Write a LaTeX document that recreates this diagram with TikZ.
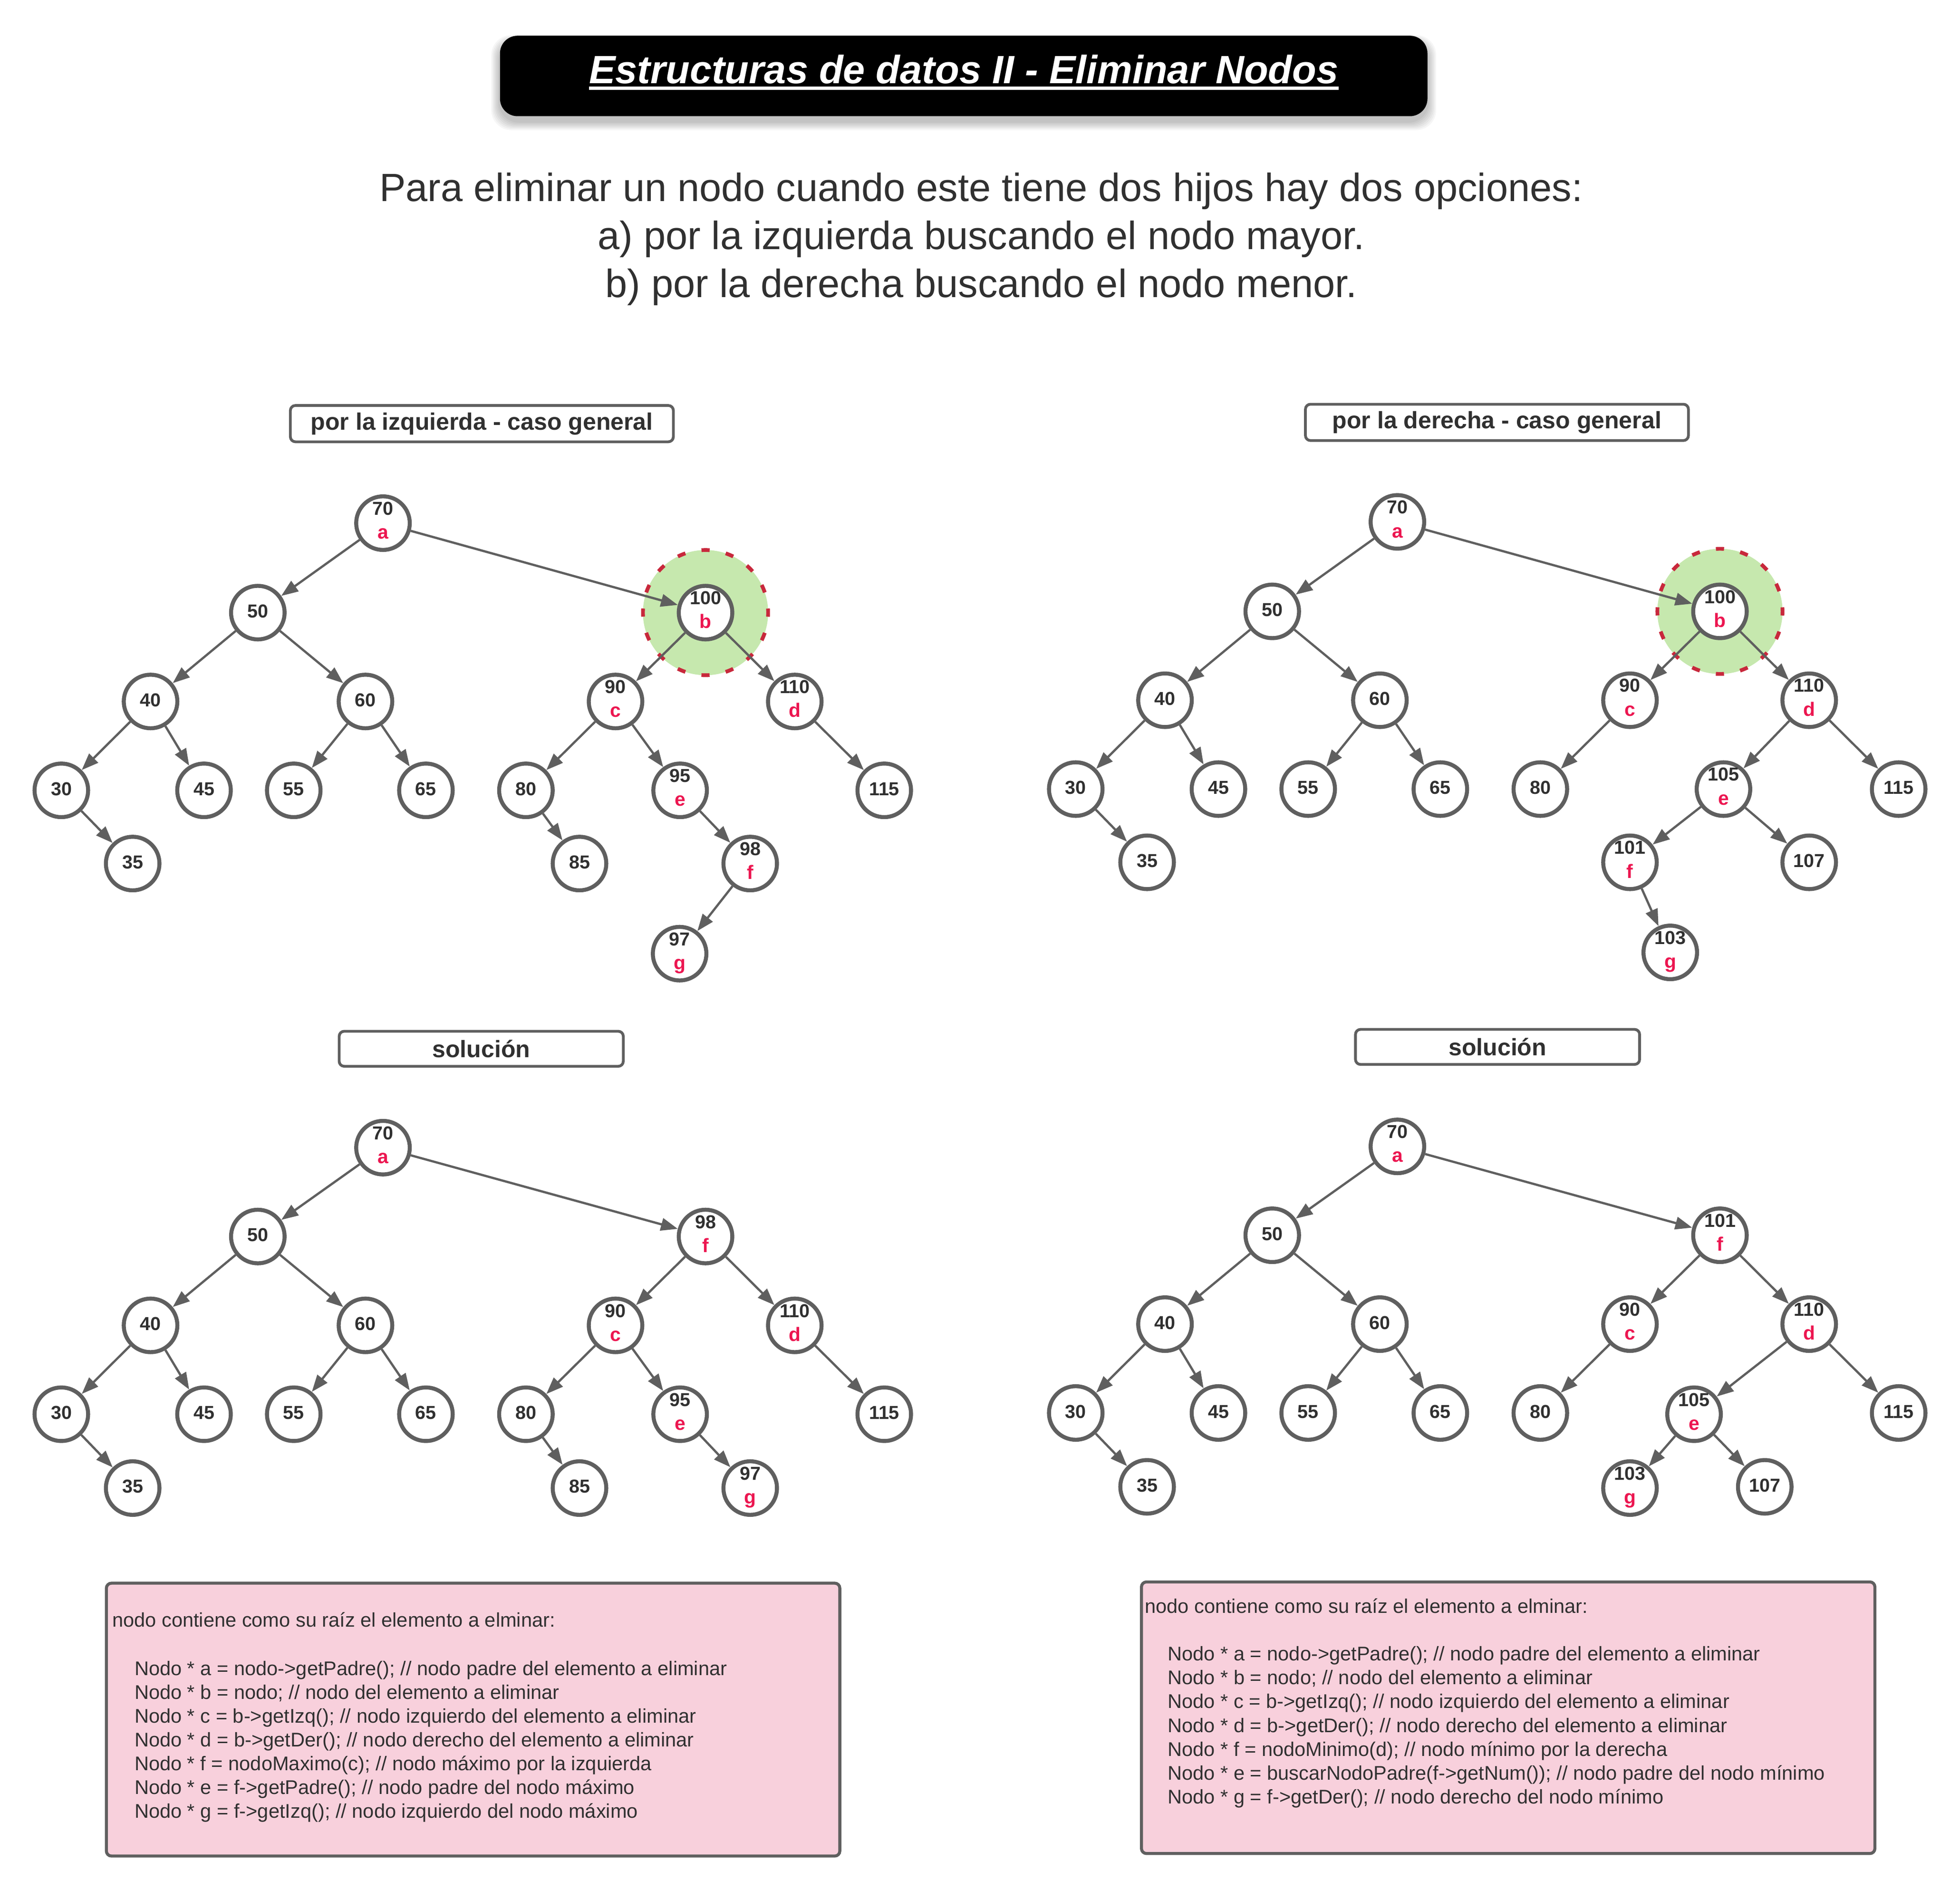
\documentclass[tikz,border=0pt]{standalone}
\usepackage{fontspec}
\setmainfont{Liberation Sans}
\usetikzlibrary{arrows.meta,calc}
\definecolor{cgray}{HTML}{5F5F5F}
\definecolor{ctext}{HTML}{303030}
\definecolor{cred}{HTML}{EC1650}
\definecolor{cgreen}{HTML}{C6E8AE}
\definecolor{cdash}{HTML}{C8283C}
\definecolor{cpink}{HTML}{F8D0DC}
\newcommand{\mkN}[4]{\node[tn] (#1) at (#2,#3) {}; \node[num] (#1n) at (#2,#3+4) {#4};}
\newcommand{\mkL}[5]{\node[tn] (#1) at (#2,#3) {}; \node[num] (#1n) at (#2,#3-6.5) {#4}; \node[lett] (#1l) at (#2,#3+12.6) {#5};}
\begin{document}
\begin{tikzpicture}[x=1pt,y=-1pt,
  tn/.style={circle, draw=cgray, line width=3.2pt, fill=white, minimum size=42.8pt, inner sep=0pt},
  num/.style={font=\fontsize{15}{18}\selectfont\bfseries, text=ctext, inner sep=0pt, anchor=base},
  lett/.style={font=\fontsize{15.5}{18}\selectfont\bfseries, text=cred, inner sep=0pt, anchor=base},
  edge/.style={draw=cgray, line width=1.8pt, -{Triangle[length=13.5pt,width=10pt]}},
  hl/.style={circle, fill=cgreen, draw=cdash, line width=3pt, minimum size=100pt, inner sep=0pt, dash pattern=on 6.5pt off 13.135pt, dash phase=3.25pt},
  lbl/.style={draw=cgray, line width=2.2pt, rounded corners=4pt, fill=white, font=\fontsize{19}{22}\selectfont\bfseries, text=ctext, inner sep=0pt},
  codebox/.style={draw=cgray, line width=2.4pt, rounded corners=4pt, fill=cpink, inner sep=0pt},
  code/.style={font=\fontsize{15.8}{19}\selectfont, text=ctext, inner sep=0pt, anchor=base west},
  intro/.style={font=\fontsize{31.5}{38}\selectfont, text=ctext, inner sep=0pt, anchor=base}
]
\useasboundingbox (0,0) rectangle (1566,1510);
\fill[white] (0,0) rectangle (1566,1510);

% ---------- title ----------
\foreach \k in {1,...,7} {
  \fill[black, opacity=0.035, rounded corners=16pt] (399.5-\k,33+\k*0.3-\k) rectangle (1140.5+\k,97+\k);
}
\node[fill=black, rounded corners=14pt, minimum width=741pt, minimum height=64.3pt, inner sep=0pt] (titlebox) at (770,60.7) {};
\node[font=\fontsize{31.5}{38}\selectfont\bfseries\itshape, text=white, inner sep=0pt, anchor=base] (titletext) at (770,66.5) {Estructuras de datos II - Eliminar Nodos};
\fill[white] ($(titletext.base west)+(0,2.5)$) rectangle ($(titletext.base east)+(0,5.1)$);

% ---------- intro ----------
\node[intro] (intro1) at (784,161) {Para eliminar un nodo cuando este tiene dos hijos hay dos opciones:};
\node[intro] (intro2) at (784,199.4) {a) por la izquierda buscando el nodo mayor.};
\node[intro] (intro3) at (784,237.7) {b) por la derecha buscando el nodo menor.};

% ---------- labels ----------
\node[lbl, minimum width=306pt, minimum height=29pt] (lblA) at (385,338.5) {por la izquierda - caso general};
\node[lbl, minimum width=306pt, minimum height=29pt] (lblB) at (1196,337.5) {por la derecha - caso general};
\node[lbl, minimum width=227pt, minimum height=28pt] (lblC) at (384.5,838) {solución};
\node[lbl, minimum width=227pt, minimum height=28pt] (lblD) at (1196.5,836.5) {solución};

% ---------- tree A : por la izquierda ----------
\node[hl] (Ahl) at (563.7,489.5) {};
\mkL{A70}{306}{418}{70}{a}
\mkN{A50}{206}{489.5}{50}
\mkL{A100}{563.7}{489.5}{100}{b}
\mkN{A40}{120.3}{560.5}{40}
\mkN{A60}{292}{560.5}{60}
\mkL{A90}{491.8}{560.5}{90}{c}
\mkL{A110}{635}{560.5}{110}{d}
\mkN{A30}{49}{631.5}{30}
\mkN{A45}{163}{631.5}{45}
\mkN{A55}{234.7}{631.5}{55}
\mkN{A65}{340.3}{631.5}{65}
\mkN{A80}{420.2}{631.5}{80}
\mkL{A95}{543.4}{631.5}{95}{e}
\mkN{A115}{706.5}{631.5}{115}
\mkN{A35}{106}{690}{35}
\mkN{A85}{463}{690}{85}
\mkL{A98}{599.4}{690}{98}{f}
\mkL{A97}{543}{762}{97}{g}
\draw[edge] (A70) -- (A50);
\draw[edge] (A70) -- (A100);
\draw[edge] (A50) -- (A40);
\draw[edge] (A50) -- (A60);
\draw[edge] (A40) -- (A30);
\draw[edge] (A40) -- (A45);
\draw[edge] (A30) -- (A35);
\draw[edge] (A60) -- (A55);
\draw[edge] (A60) -- (A65);
\draw[edge] (A100) -- (A90);
\draw[edge] (A100) -- (A110);
\draw[edge] (A90) -- (A80);
\draw[edge] (A90) -- (A95);
\draw[edge] (A80) -- (A85);
\draw[edge] (A95) -- (A98);
\draw[edge] (A98) -- (A97);
\draw[edge] (A110) -- (A115);

% ---------- tree B : por la derecha ----------
\node[hl] (Bhl) at (1374.2,488.5) {};
\mkL{B70}{1116.5}{417}{70}{a}
\mkN{B50}{1016.5}{488.5}{50}
\mkL{B100}{1374.2}{488.5}{100}{b}
\mkN{B40}{930.8}{559.5}{40}
\mkN{B60}{1102.5}{559.5}{60}
\mkL{B90}{1302.3}{559.5}{90}{c}
\mkL{B110}{1445.5}{559.5}{110}{d}
\mkN{B30}{859.5}{630.5}{30}
\mkN{B45}{973.5}{630.5}{45}
\mkN{B55}{1045.2}{630.5}{55}
\mkN{B65}{1150.8}{630.5}{65}
\mkN{B80}{1230.7}{630.5}{80}
\mkL{B105}{1377}{630.5}{105}{e}
\mkN{B115}{1517}{630.5}{115}
\mkN{B35}{916.5}{689}{35}
\mkL{B101}{1302.3}{689}{101}{f}
\mkN{B107}{1445.5}{689}{107}
\mkL{B103}{1334.5}{761}{103}{g}
\draw[edge] (B70) -- (B50);
\draw[edge] (B70) -- (B100);
\draw[edge] (B50) -- (B40);
\draw[edge] (B50) -- (B60);
\draw[edge] (B40) -- (B30);
\draw[edge] (B40) -- (B45);
\draw[edge] (B30) -- (B35);
\draw[edge] (B60) -- (B55);
\draw[edge] (B60) -- (B65);
\draw[edge] (B100) -- (B90);
\draw[edge] (B100) -- (B110);
\draw[edge] (B90) -- (B80);
\draw[edge] (B110) -- (B105);
\draw[edge] (B110) -- (B115);
\draw[edge] (B105) -- (B101);
\draw[edge] (B105) -- (B107);
\draw[edge] (B101) -- (B103);

% ---------- tree C : solucion izquierda ----------
\mkL{C70}{306}{917}{70}{a}
\mkN{C50}{206}{988}{50}
\mkL{C98}{563.7}{988}{98}{f}
\mkN{C40}{120.3}{1059}{40}
\mkN{C60}{292}{1059}{60}
\mkL{C90}{491.8}{1059}{90}{c}
\mkL{C110}{635}{1059}{110}{d}
\mkN{C30}{49}{1130}{30}
\mkN{C45}{163}{1130}{45}
\mkN{C55}{234.7}{1130}{55}
\mkN{C65}{340.3}{1130}{65}
\mkN{C80}{420.2}{1130}{80}
\mkL{C95}{543.4}{1130}{95}{e}
\mkN{C115}{706.5}{1130}{115}
\mkN{C35}{106}{1189}{35}
\mkN{C85}{463}{1189}{85}
\mkL{C97}{599.4}{1189}{97}{g}
\draw[edge] (C70) -- (C50);
\draw[edge] (C70) -- (C98);
\draw[edge] (C50) -- (C40);
\draw[edge] (C50) -- (C60);
\draw[edge] (C40) -- (C30);
\draw[edge] (C40) -- (C45);
\draw[edge] (C30) -- (C35);
\draw[edge] (C60) -- (C55);
\draw[edge] (C60) -- (C65);
\draw[edge] (C98) -- (C90);
\draw[edge] (C98) -- (C110);
\draw[edge] (C90) -- (C80);
\draw[edge] (C90) -- (C95);
\draw[edge] (C80) -- (C85);
\draw[edge] (C95) -- (C97);
\draw[edge] (C110) -- (C115);

% ---------- tree D : solucion derecha ----------
\mkL{D70}{1116.5}{916}{70}{a}
\mkN{D50}{1016.5}{987}{50}
\mkL{D101}{1374.2}{987}{101}{f}
\mkN{D40}{930.8}{1058}{40}
\mkN{D60}{1102.5}{1058}{60}
\mkL{D90}{1302.3}{1058}{90}{c}
\mkL{D110}{1445.5}{1058}{110}{d}
\mkN{D30}{859.5}{1129}{30}
\mkN{D45}{973.5}{1129}{45}
\mkN{D55}{1045.2}{1129}{55}
\mkN{D65}{1150.8}{1129}{65}
\mkN{D80}{1230.7}{1129}{80}
\mkL{D105}{1353.5}{1130}{105}{e}
\mkN{D115}{1517}{1129}{115}
\mkN{D35}{916.5}{1188}{35}
\mkL{D103}{1302.3}{1189}{103}{g}
\mkN{D107}{1410}{1188}{107}
\draw[edge] (D70) -- (D50);
\draw[edge] (D70) -- (D101);
\draw[edge] (D50) -- (D40);
\draw[edge] (D50) -- (D60);
\draw[edge] (D40) -- (D30);
\draw[edge] (D40) -- (D45);
\draw[edge] (D30) -- (D35);
\draw[edge] (D60) -- (D55);
\draw[edge] (D60) -- (D65);
\draw[edge] (D101) -- (D90);
\draw[edge] (D101) -- (D110);
\draw[edge] (D90) -- (D80);
\draw[edge] (D110) -- (D105);
\draw[edge] (D110) -- (D115);
\draw[edge] (D105) -- (D103);
\draw[edge] (D105) -- (D107);

% ---------- code boxes ----------
\node[codebox, minimum width=586pt, minimum height=218pt] (codeL) at (378,1374) {};
\node[code] (cL1) at (89.5,1300) {nodo contiene como su raíz el elemento a elminar:};
\node[code] (cL2) at (107.3,1338.6) {Nodo * a = nodo->getPadre(); // nodo padre del elemento a eliminar};
\node[code] (cL3) at (107.3,1357.6) {Nodo * b = nodo; // nodo del elemento a eliminar};
\node[code] (cL4) at (107.3,1376.6) {Nodo * c = b->getIzq(); // nodo izquierdo del elemento a eliminar};
\node[code] (cL5) at (107.3,1395.6) {Nodo * d = b->getDer(); // nodo derecho del elemento a eliminar};
\node[code] (cL6) at (107.3,1414.6) {Nodo * f = nodoMaximo(c); // nodo máximo por la izquierda};
\node[code] (cL7) at (107.3,1433.6) {Nodo * e = f->getPadre(); // nodo padre del nodo máximo};
\node[code] (cL8) at (107.3,1452.6) {Nodo * g = f->getIzq(); // nodo izquierdo del nodo máximo};

\node[codebox, minimum width=586pt, minimum height=217pt] (codeR) at (1205,1372.5) {};
\node[code] (cR1) at (914.5,1288.8) {nodo contiene como su raíz el elemento a elminar:};
\node[code] (cR2) at (932.8,1326.9) {Nodo * a = nodo->getPadre(); // nodo padre del elemento a eliminar};
\node[code] (cR3) at (932.8,1345.97) {Nodo * b = nodo; // nodo del elemento a eliminar};
\node[code] (cR4) at (932.8,1365.04) {Nodo * c = b->getIzq(); // nodo izquierdo del elemento a eliminar};
\node[code] (cR5) at (932.8,1384.11) {Nodo * d = b->getDer(); // nodo derecho del elemento a eliminar};
\node[code] (cR6) at (932.8,1403.18) {Nodo * f = nodoMinimo(d); // nodo mínimo por la derecha};
\node[code] (cR7) at (932.8,1422.25) {Nodo * e = buscarNodoPadre(f->getNum()); // nodo padre del nodo mínimo};
\node[code] (cR8) at (932.8,1441.3) {Nodo * g = f->getDer(); // nodo derecho del nodo mínimo};
\end{tikzpicture}
\end{document}
